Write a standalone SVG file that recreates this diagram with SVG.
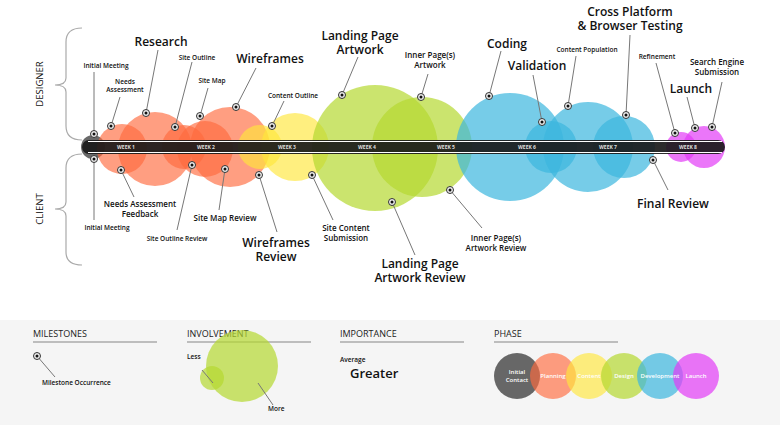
<svg xmlns="http://www.w3.org/2000/svg" width="780" height="425" viewBox="0 0 780 425">
<style>
text{font-family:"Open Sans","DejaVu Sans",sans-serif;fill:#111}
.b{font-size:12px;font-weight:600}
.m{font-size:8px;font-weight:600}
.s{font-size:6.5px;font-weight:600}
.w{font-size:5px;fill:#ddd;font-weight:700}
.o{fill:#ff6a3d;fill-opacity:.65}
.y{fill:#ffe63a;fill-opacity:.65}
.g{fill:#b5d930;fill-opacity:.7}
.c{fill:#3cb6de;fill-opacity:.7}
.p{fill:#e23cf6;fill-opacity:.7}
.k{fill:#444;fill-opacity:.8}
.l{stroke:#777;stroke-width:1;fill:none}
.br{stroke:#aaa;stroke-width:1.2;fill:none}
.h{font-size:9px;fill:#222}
.pt{font-size:6px;fill:#fff;font-weight:600}
</style>
<defs>
<g id="d"><circle r="3.5" fill="#eee" stroke="#333" stroke-width="1"/><circle r="1.5" fill="#111"/></g>
</defs>
<rect width="780" height="425" fill="#fff"/>
<g id="bubbles">
<circle class="k" cx="93" cy="147" r="12"/>
<circle class="o" cx="122" cy="149" r="25"/>
<circle class="o" cx="155" cy="149" r="37"/>
<circle class="o" cx="184" cy="147" r="22"/>
<circle class="o" cx="205" cy="149" r="28"/>
<circle class="o" cx="230" cy="147" r="40"/>
<circle class="y" cx="260" cy="147" r="22"/>
<circle class="y" cx="295" cy="147" r="34"/>
<circle class="g" cx="375" cy="148" r="63"/>
<circle class="g" cx="422" cy="147" r="50"/>
<circle class="c" cx="510" cy="147" r="54"/>
<circle class="c" cx="551" cy="147" r="26"/>
<circle class="c" cx="588" cy="147" r="45"/>
<circle class="c" cx="624" cy="147" r="31"/>
<circle class="p" cx="681" cy="147" r="15"/>
<circle class="p" cx="704" cy="147" r="21"/>
</g>
<g id="timeline">
<rect x="82" y="140" width="643" height="14" rx="7" fill="#1a1a1a" fill-opacity=".92"/>
<line x1="88" y1="141.5" x2="722" y2="141.5" stroke="#fff" stroke-width="1"/>
<line x1="88" y1="152.5" x2="722" y2="152.5" stroke="#fff" stroke-width="1"/>
<text class="w" x="126" y="149" text-anchor="middle">WEEK 1</text>
<text class="w" x="206" y="149" text-anchor="middle">WEEK 2</text>
<text class="w" x="287" y="149" text-anchor="middle">WEEK 3</text>
<text class="w" x="367" y="149" text-anchor="middle">WEEK 4</text>
<text class="w" x="446" y="149" text-anchor="middle">WEEK 5</text>
<text class="w" x="527" y="149" text-anchor="middle">WEEK 6</text>
<text class="w" x="608" y="149" text-anchor="middle">WEEK 7</text>
<text class="w" x="688" y="149" text-anchor="middle">WEEK 8</text>
</g>
<g id="braces">
<path class="br" d="M82 28 Q66 28 66 42 L66 78 Q66 85 55 85 Q66 85 66 92 L66 126 Q66 140 82 140"/>
<path class="br" d="M82 154 Q66 154 66 168 L66 202 Q66 209 55 209 Q66 209 66 216 L66 252 Q66 265 82 265"/>
<text x="0" y="0" font-size="9.5" transform="translate(43 84) rotate(-90)" text-anchor="middle">DESIGNER</text>
<text x="0" y="0" font-size="9.5" transform="translate(43 209) rotate(-90)" text-anchor="middle">CLIENT</text>
</g>
<g id="connectors">
<path class="l" d="M94 134V72M111 126L120 97M146 113L158 50M175 127L192 62M200 116L208 88M236 107L256 68M272 126L284 101M342 95L358 57M421 97L428 74M489 96L501 51M542 122L533 75M568 106L576 56M626 115L630 35M675 133L656 63M695 128L687 97M712 127L722 82"/>
<path class="l" d="M94 159V220M121 170L134 197M192 165L177 230M225 169L219 210M259 175L277 232M312 175L333 220M392 202L415 255M450 190L482 228M653 160L668 190"/>
</g>
<g id="milestones">
<use href="#d" x="94" y="134"/><use href="#d" x="111" y="126"/><use href="#d" x="146" y="113"/><use href="#d" x="175" y="127"/><use href="#d" x="200" y="116"/><use href="#d" x="236" y="107"/><use href="#d" x="272" y="126"/><use href="#d" x="342" y="95"/><use href="#d" x="421" y="97"/><use href="#d" x="489" y="96"/><use href="#d" x="542" y="122"/><use href="#d" x="568" y="106"/><use href="#d" x="626" y="115"/><use href="#d" x="675" y="133"/><use href="#d" x="695" y="128"/><use href="#d" x="712" y="127"/>
<use href="#d" x="94" y="159"/><use href="#d" x="121" y="170"/><use href="#d" x="192" y="165"/><use href="#d" x="225" y="169"/><use href="#d" x="259" y="175"/><use href="#d" x="312" y="175"/><use href="#d" x="392" y="202"/><use href="#d" x="450" y="190"/><use href="#d" x="653" y="160"/>
</g>
<g id="labels" text-anchor="middle">
<text class="s" x="106" y="68">Initial Meeting</text>
<text class="s" x="125" y="84">Needs</text><text class="s" x="125" y="92">Assessment</text>
<text class="b" x="161" y="46">Research</text>
<text class="s" x="197" y="60">Site Outline</text>
<text class="s" x="212" y="83">Site Map</text>
<text class="b" x="270" y="63">Wireframes</text>
<text class="s" x="293" y="98">Content Outline</text>
<text class="b" x="360" y="40">Landing Page</text><text class="b" x="360" y="54">Artwork</text>
<text class="m" x="430" y="58">Inner Page(s)</text><text class="m" x="430" y="68">Artwork</text>
<text class="b" x="507" y="48">Coding</text>
<text class="b" x="537" y="70">Validation</text>
<text class="s" x="587" y="52">Content Population</text>
<text class="b" x="630" y="16">Cross Platform</text><text class="b" x="630" y="30">&amp; Browser Testing</text>
<text class="s" x="657" y="59">Refinement</text>
<text class="b" x="691" y="93">Launch</text>
<text class="m" x="717" y="65">Search Engine</text><text class="m" x="717" y="75">Submission</text>
<text class="s" x="107" y="230">Initial Meeting</text>
<text class="m" x="140" y="207">Needs Assessment</text><text class="m" x="140" y="217">Feedback</text>
<text class="s" x="177" y="241">Site Outline Review</text>
<text class="m" x="225" y="221">Site Map Review</text>
<text class="b" x="276" y="247">Wireframes</text><text class="b" x="276" y="261">Review</text>
<text class="m" x="346" y="231">Site Content</text><text class="m" x="346" y="241">Submission</text>
<text class="b" x="420" y="268">Landing Page</text><text class="b" x="420" y="282">Artwork Review</text>
<text class="m" x="496" y="241">Inner Page(s)</text><text class="m" x="496" y="251">Artwork Review</text>
<text class="b" x="673" y="208">Final Review</text>
</g>
<g id="legend">
<rect x="0" y="320" width="780" height="105" fill="#f5f5f5"/>
<text class="h" x="33" y="337">MILESTONES</text><text class="h" x="187" y="337">INVOLVEMENT</text><text class="h" x="340" y="337">IMPORTANCE</text><text class="h" x="494" y="337">PHASE</text>
<path d="M33 342H157M187 342H311M340 342H464M494 342H618" stroke="#aaa" stroke-width="1.5"/>
<path class="l" d="M37 356L55 377"/><use href="#d" x="37" y="356"/>
<text class="s" x="42" y="385">Milestone Occurrence</text>
<circle class="g" cx="212" cy="378" r="12"/><circle class="g" cx="242" cy="366" r="36"/>
<path class="l" d="M202 370L213 383M258 383L273 405"/>
<text class="s" x="187" y="359">Less</text><text class="s" x="268" y="411">More</text>
<text class="s" x="340" y="362">Average</text>
<text x="350" y="378" font-size="13" font-weight="600">Greater</text>
<circle class="k" cx="517" cy="376" r="23"/><circle class="o" cx="553" cy="376" r="23"/><circle class="y" cx="589" cy="376" r="23"/><circle class="g" cx="624" cy="376" r="23"/><circle class="c" cx="660" cy="376" r="23"/><circle class="p" cx="696" cy="376" r="23"/>
<g text-anchor="middle"><text class="pt" x="517" y="374">Initial</text><text class="pt" x="517" y="382">Contact</text><text class="pt" x="553" y="378">Planning</text><text class="pt" x="589" y="378">Content</text><text class="pt" x="624" y="378">Design</text><text class="pt" x="660" y="378">Development</text><text class="pt" x="696" y="378">Launch</text></g>
</g>
</svg>
